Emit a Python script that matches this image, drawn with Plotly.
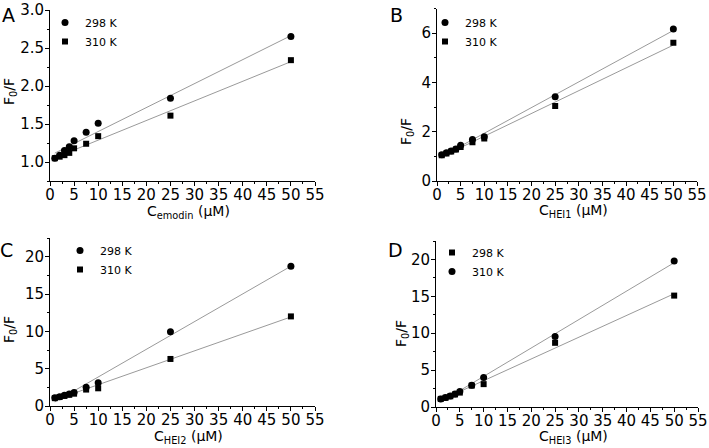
import numpy as np
import plotly.graph_objects as go

conc = [1, 2, 3, 4, 5, 7.5, 10, 25, 50]

a_298 = [1.05, 1.09, 1.15, 1.20, 1.28, 1.39, 1.51, 1.84, 2.65]
a_310 = [1.05, 1.07, 1.09, 1.12, 1.18, 1.24, 1.34, 1.61, 2.34]

b_298 = [1.07, 1.15, 1.22, 1.30, 1.45, 1.68, 1.80, 3.42, 6.17]
b_310 = [1.05, 1.12, 1.20, 1.28, 1.38, 1.57, 1.72, 3.04, 5.61]

c_298 = [1.10, 1.25, 1.45, 1.60, 1.80, 2.50, 3.10, 9.93, 18.70]
c_310 = [1.05, 1.20, 1.35, 1.50, 1.65, 2.20, 2.37, 6.30, 12.00]

d_sq = [1.10, 1.25, 1.45, 1.70, 1.95, 2.90, 3.10, 8.70, 15.10]   # legend: 298 K (square)
d_ci = [1.10, 1.30, 1.50, 1.75, 2.10, 2.95, 4.00, 9.57, 19.80]  # legend: 310 K (circle)

panels = [
    dict(letter="A", sub="emodin", series=[("298 K", "circle", a_298), ("310 K", "square", a_310)]),
    dict(letter="B", sub="HEI1", series=[("298 K", "circle", b_298), ("310 K", "square", b_310)]),
    dict(letter="C", sub="HEI2", series=[("298 K", "circle", c_298), ("310 K", "square", c_310)]),
    dict(letter="D", sub="HEI3", series=[("298 K", "square", d_sq), ("310 K", "circle", d_ci)]),
]

W, H = 709, 448
FONT = "DejaVu Sans"

def px(x):
    return x / W

def py(y):
    return 1 - y / H

# pixel geometry of each plot area (left, right, top, bottom)
boxes = [(50, 315, 10, 181), (437, 697, 8.5, 181), (50, 315, 238, 406), (436, 698, 241, 407)]
yranges = [[0.75, 3.0], [0, 7], [0, 22.5], [0, 22.5]]
ydt = [0.5, 2, 5, 5]
yfmt = [".1f", "d", "d", "d"]
legpos = [(45, 8), (425, 8), (60, 236), (432, 238)]
letterpos = [(8, 15), (396, 15), (6, 250), (395, 250)]
xtitlepos = [(189, 212), (573, 211), (189, 437), (573, 437)]
ytitlepos = [(10, 92), (407, 132), (10, 330), (402, 334)]

fig = go.Figure()
layout = dict(
    width=W, height=H, margin=dict(l=0, r=0, t=0, b=0, autoexpand=False),
    paper_bgcolor="white", plot_bgcolor="white",
    font=dict(family=FONT, size=14, color="black"),
    annotations=[],
)

def ann(text, x, y, size, angle=0):
    return dict(text=text, x=px(x), y=py(y), xref="paper", yref="paper", showarrow=False,
                xanchor="center", yanchor="middle", textangle=angle,
                font=dict(size=size, family=FONT, color="black"))

xfit = np.linspace(min(conc), max(conc), 50)
for i, p in enumerate(panels):
    n = "" if i == 0 else str(i + 1)
    xa, ya = "x" + n, "y" + n
    leg = "legend" + n
    for name, sym, vals in p["series"]:
        k, b0 = np.polyfit(conc, vals, 1)
        fig.add_trace(go.Scatter(x=xfit, y=k * xfit + b0, mode="lines",
                                 line=dict(color="#9a9a9a", width=1),
                                 showlegend=False, hoverinfo="skip", xaxis=xa, yaxis=ya))
    for name, sym, vals in p["series"]:
        fig.add_trace(go.Scatter(x=conc, y=vals, mode="markers", name=name,
                                 marker=dict(symbol=sym, size=6 if sym == "square" else 7, color="black"),
                                 xaxis=xa, yaxis=ya, legend=leg))
    l, r, t, btm = boxes[i]
    layout["xaxis" + n] = dict(
        domain=[px(l), px(r)], anchor=ya, range=[0, 55], dtick=5, tick0=0, automargin=False,
        showline=True, linecolor="black", linewidth=1, ticks="outside", ticklen=4,
        tickcolor="black", showgrid=False, zeroline=False, ticklabeloverflow="allow",
        ticklabelstandoff=-4,
        minor=dict(dtick=2.5, ticks="outside", ticklen=2, tickcolor="black", showgrid=False),
        tickfont=dict(size=15),
    )
    layout["yaxis" + n] = dict(
        domain=[py(btm), py(t)], anchor=xa, range=yranges[i], dtick=ydt[i],
        tickformat=yfmt[i], automargin=False, ticklabeloverflow="allow",
        ticklabelstandoff=-2,
        showline=True, linecolor="black", linewidth=1, ticks="outside", ticklen=4,
        tickcolor="black", showgrid=False, zeroline=False,
        minor=dict(dtick=ydt[i] / 2, ticks="outside", ticklen=2, tickcolor="black", showgrid=False),
        tickfont=dict(size=15),
    )
    lx, ly = legpos[i]
    layout[leg] = dict(x=px(lx), y=py(ly), xanchor="left", yanchor="top",
                       bgcolor="rgba(0,0,0,0)", font=dict(size=11, family=FONT),
                       itemwidth=30, tracegroupgap=0)
    layout["annotations"].append(ann(p["letter"], *letterpos[i], 19))
    layout["annotations"].append(ann("C<sub>%s</sub> (μM)" % p["sub"], *xtitlepos[i], 14))
    layout["annotations"].append(ann("F<sub>0</sub>/F", *ytitlepos[i], 14, -90))

fig.update_layout(**layout)
fig.write_html("out.html", config={"displayModeBar": False},
               post_script="document.body.style.margin='0';")
